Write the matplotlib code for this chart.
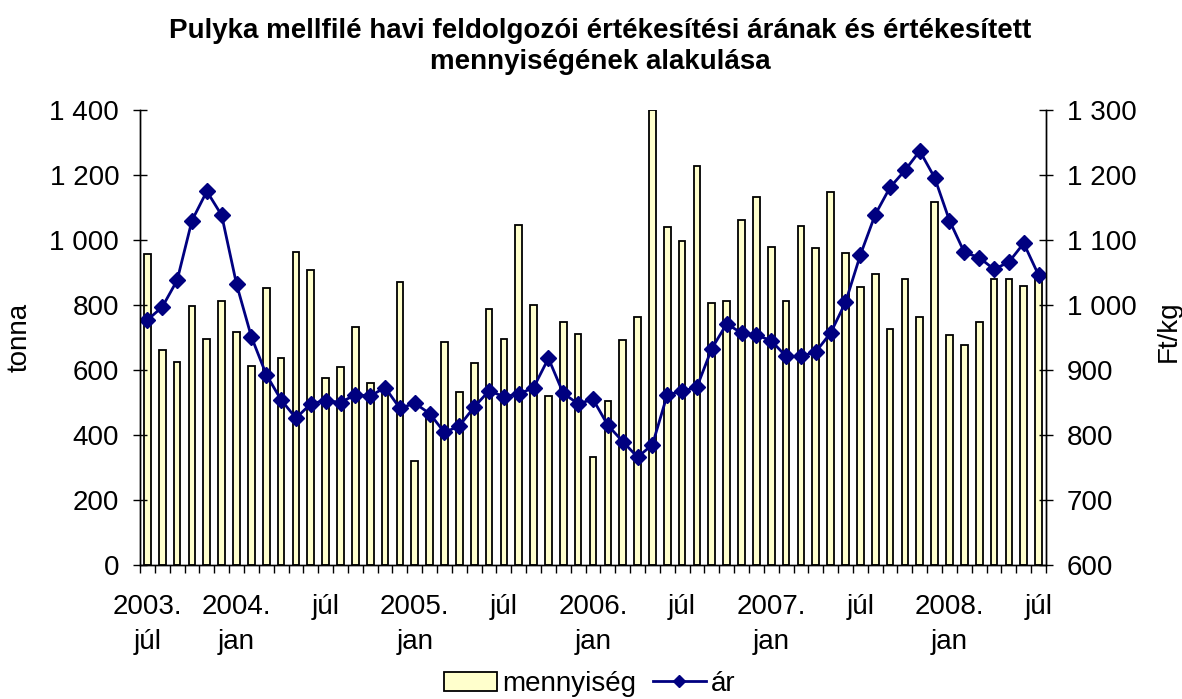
import numpy as np
import matplotlib
matplotlib.use("Agg")
import matplotlib.pyplot as plt
from matplotlib.ticker import FuncFormatter, FixedLocator

plt.rcParams['font.family'] = ['Liberation Sans', 'DejaVu Sans']

# monthly data, 2003 júl .. 2008 júl
mennyiseg = [957, 663, 626, 798, 695, 813, 718, 612, 851, 637, 962, 908,
             576, 610, 732, 560, 550, 870, 321, 460, 685, 531, 622, 787,
             694, 1045, 800, 520, 749, 712, 332, 506, 692, 763, 1400, 1041,
             997, 1228, 807, 813, 1063, 1133, 978, 811, 1043, 975, 1148, 960,
             856, 894, 727, 881, 764, 1117, 708, 677, 748, 880, 880, 860, 885]
ar = [977, 997, 1038, 1130, 1175, 1138, 1032, 951, 893, 854, 826, 848,
      853, 850, 862, 860, 873, 841, 849, 833, 804, 814, 843, 868,
      859, 863, 873, 918, 864, 848, 855, 815, 790, 766, 785, 862,
      867, 874, 933, 971, 957, 954, 945, 921, 921, 928, 957, 1004,
      1077, 1139, 1181, 1207, 1237, 1196, 1130, 1081, 1073, 1055, 1066, 1095, 1046]

tick_idx = [0, 6, 12, 18, 24, 30, 36, 42, 48, 54, 60]
tick_labels = ['2003.\njúl', '2004.\njan', 'júl', '2005.\njan', 'júl', '2006.\njan',
               'júl', '2007.\njan', 'júl', '2008.\njan', 'júl']

x = np.arange(len(mennyiseg))

fig = plt.figure(figsize=(11.82, 6.99), dpi=100)
ax = fig.add_axes([140/1182, 134/699, 906/1182, 455/699])
ax2 = ax.twinx()

bars = ax.bar(x, mennyiseg, width=0.45, color='#FFFFCC', edgecolor='black',
              linewidth=1.3, label='mennyiség')
line, = ax2.plot(x, ar, color='#000080', linewidth=2, marker='D', markersize=8,
                 label='ár')

ax.set_xlim(-0.5, len(x) - 0.5)
ax.set_ylim(0, 1400)
ax2.set_ylim(600, 1300)
ax.set_yticks(np.arange(0, 1401, 200))
ax2.set_yticks(np.arange(600, 1301, 100))

fmt = FuncFormatter(lambda v, p: f"{int(v):,}".replace(",", " "))
ax.yaxis.set_major_formatter(fmt)
ax2.yaxis.set_major_formatter(fmt)

ax.set_xticks(tick_idx)
ax.set_xticklabels(tick_labels, fontsize=20, linespacing=1.45)
ax.xaxis.set_minor_locator(FixedLocator(np.arange(-0.5, len(x), 1)))
ax.tick_params(axis='x', which='major', length=0, pad=21)
ax.tick_params(axis='x', which='minor', length=6, width=1, direction='out')
ax.tick_params(axis='y', labelsize=20, length=10, width=1, direction='inout', pad=10)
ax2.tick_params(axis='y', labelsize=20, length=10, width=1, direction='inout', pad=10)

for a in (ax, ax2):
    a.spines['top'].set_visible(False)
    a.spines['left'].set_linewidth(1)
    a.spines['right'].set_linewidth(1)
    a.spines['bottom'].set_linewidth(1)

ax.set_ylabel('tonna', fontsize=20)
ax.yaxis.set_label_coords((33 - 140) / 906, 0.501)
ax2.set_ylabel('Ft/kg', fontsize=20, rotation=90)
ax2.yaxis.set_label_coords((1156 - 140) / 906, 0.514)

fig.text(600/1182, 1 - 18/699,
         'Pulyka mellfilé havi feldolgozói értékesítési árának és értékesített\n'
         'mennyiségének alakulása',
         ha='center', va='top', fontsize=20, fontweight='bold', linespacing=1.25)

fig.legend([bars, line], ['mennyiség', 'ár'], loc='center',
           bbox_to_anchor=(590/1182, 1 - 684/699), ncol=2, frameon=False,
           fontsize=20, handlelength=1.9, handletextpad=0.2, columnspacing=0.6,
           borderpad=0.1, markerscale=0.75)

fig.savefig('out.png', dpi=100)
